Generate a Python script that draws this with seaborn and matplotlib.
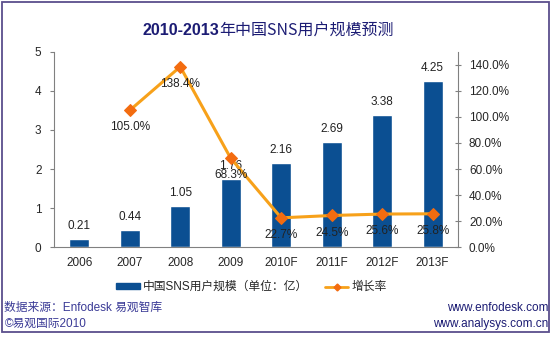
import numpy as np
import pandas as pd
import matplotlib
matplotlib.use("Agg")
import matplotlib.pyplot as plt
from matplotlib.patches import Patch, Rectangle
from matplotlib.lines import Line2D
import seaborn as sns

years = ["2006", "2007", "2008", "2009", "2010F", "2011F", "2012F", "2013F"]
users = [0.21, 0.44, 1.05, 1.76, 2.16, 2.69, 3.38, 4.25]
growth = [np.nan, 1.050, 1.384, 0.683, 0.227, 0.245, 0.256, 0.258]
growth_labels = ["", "105.0%", "138.4%", "68.3%", "22.7%", "24.5%", "25.6%", "25.8%"]
left_ticks = [0, 1, 2, 3, 4, 5]
right_ticks = [0.0, 0.2, 0.4, 0.6, 0.8, 1.0, 1.2, 1.4]

title_a = "2010-2013"
title_b = "年中国SNS用户规模预测"
bar_name = "中国SNS用户规模（单位：亿）"
line_name = "增长率"

sns.set_theme(style="white")
plt.rcParams['font.family'] = ['Liberation Sans', 'Noto Sans CJK SC', 'DejaVu Sans']

bar_color = "#0B4F92"
line_color = "#F7A11A"
marker_color = "#F36C10"
spine_color = "#808080"

df = pd.DataFrame({"year": years, "users": users, "growth": growth})
df["pos"] = np.arange(len(df))

fig = plt.figure(figsize=(5.53, 3.37), dpi=100)
ax = fig.add_axes([0.0977, 0.2656, 0.7303, 0.5814])

sns.barplot(data=df, x="year", y="users", color=bar_color, saturation=1,
            width=0.4, ax=ax, zorder=2)
ax.set_ylim(0, 5)
ax.set_xlim(-0.5, len(years) - 0.5)
ax.set_yticks(left_ticks)
ax.set_yticklabels([str(t) for t in left_ticks], fontsize=8.5)
ax.set_xlabel("")
ax.set_ylabel("")
ax.tick_params(axis="x", length=0, labelsize=8.5, pad=7)
ax.set_xticks(np.arange(len(years)) + 0.5, minor=True)
ax.tick_params(axis="x", which="minor", direction="in", length=3, color=spine_color, width=0.8)
ax.tick_params(axis="y", direction="out", length=3, color=spine_color, width=0.8, pad=6)
for s in ["top", "right"]:
    ax.spines[s].set_visible(False)
for s in ["left", "bottom"]:
    ax.spines[s].set_color(spine_color)
    ax.spines[s].set_linewidth(0.8)

for p, v in zip(df["pos"], df["users"]):
    ax.annotate(f"{v:.2f}", (p, v), xytext=(0, 5), textcoords="offset points",
                ha="center", va="bottom", fontsize=8.5, color="#222222", zorder=5)

ax2 = ax.twinx()
ax2.set_position(ax.get_position())
gd = df.dropna(subset=["growth"])
sns.lineplot(x=gd["pos"], y=gd["growth"], ax=ax2, color=line_color, linewidth=2.2,
             marker="D", markersize=6.5, markerfacecolor=marker_color,
             markeredgecolor=marker_color, zorder=3)
ax2.set_ylim(0, 1.5)
ax2.set_xlim(-0.5, len(years) - 0.5)
ax2.set_yticks(right_ticks)
ax2.set_yticklabels([f"{t*100:.1f}%" for t in right_ticks], fontsize=8.5)
ax2.set_xlabel("")
ax2.set_ylabel("")
ax2.tick_params(axis="y", direction="inout", length=4, color=spine_color, width=0.8, pad=6)
for s in ["top", "left", "bottom"]:
    ax2.spines[s].set_visible(False)
ax2.spines["right"].set_color(spine_color)
ax2.spines["right"].set_linewidth(0.8)

for p, v, lab in zip(df["pos"], df["growth"], growth_labels):
    if lab:
        ax2.annotate(lab, (p, v), xytext=(0, -8), textcoords="offset points",
                     ha="center", va="top", fontsize=8.5, color="#222222", zorder=6)

title_color = "#1C1C74"
t1 = fig.text(0.257, 0.91, title_a, ha="left", va="center", fontsize=11.5,
              fontweight="bold", color=title_color, family=["Liberation Sans"])
fig.canvas.draw()
ax.annotate(title_b, xy=(1.0, 0.5), xycoords=t1, ha="left", va="center",
            fontsize=11.5, color=title_color, annotation_clip=False,
            family=["Noto Sans CJK SC", "Liberation Sans"])

handles = [Patch(facecolor=bar_color, edgecolor=bar_color),
           Line2D([0], [0], color=line_color, lw=2, marker="D", markersize=3.5,
                  markerfacecolor=marker_color, markeredgecolor=marker_color)]
fig.legend(handles, [bar_name, line_name], loc="center", bbox_to_anchor=(0.455, 0.148),
           ncol=2, frameon=False, fontsize=8.5, handlelength=2.0, handleheight=0.35,
           columnspacing=1.4, handletextpad=0.3)

foot_color = "#3A3A96"
fig.text(0.008, 0.086, "数据来源：Enfodesk 易观智库", ha="left", va="center",
         fontsize=8.5, color=foot_color)
fig.text(0.008, 0.039, "©易观国际2010", ha="left", va="center",
         fontsize=8.5, color=foot_color)
fig.text(0.991, 0.086, "www.enfodesk.com", ha="right", va="center",
         fontsize=8.5, color=title_color)
fig.text(0.991, 0.039, "www.analysys.com.cn", ha="right", va="center",
         fontsize=8.5, color=title_color)

fig.patches.append(Rectangle((0.004, 0.014), 0.989, 0.98, transform=fig.transFigure,
                             fill=False, edgecolor="#5B4E8C", linewidth=1.3))

fig.savefig("out.png", dpi=100)
